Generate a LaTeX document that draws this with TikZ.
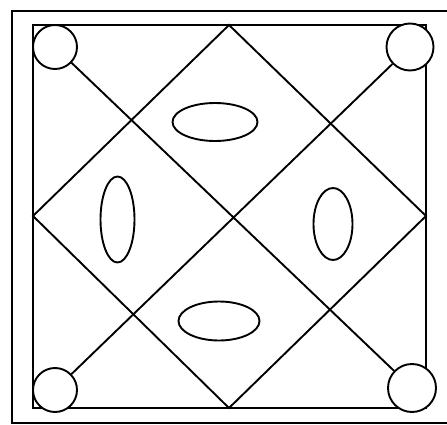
\documentclass[tikz,border=0pt]{standalone}
\usetikzlibrary{shapes.geometric}
\begin{document}
\begin{tikzpicture}[x=1pt,y=-1pt,
  ln/.style={line width=1.9pt, black},
  knob/.style={circle, draw, line width=1.9pt, fill=white, inner sep=0pt},
  oval/.style={ellipse, draw, line width=1.9pt, inner sep=0pt}]
\useasboundingbox (0,0) rectangle (447,425);
% outer frame
\draw[ln] (447,11) -- (12,11) -- (12,423) -- (447,423);
% inner square
\draw[ln] (33,25) rectangle (426,408);
% diamond
\coordinate (dt) at (229,25);
\coordinate (dr) at (426,216);
\coordinate (db) at (229,408);
\coordinate (dl) at (33,216);
\draw[ln] (dt) -- (dr) -- (db) -- (dl) -- cycle;
% corner circles
\node[knob, minimum size=44pt] (tl) at (55,47) {};
\node[knob, minimum size=47pt] (tr) at (410,47) {};
\node[knob, minimum size=44pt] (bl) at (55,390) {};
\node[knob, minimum size=48pt] (br) at (412,388) {};
% diagonals
\draw[ln] (tl) -- (br);
\draw[ln] (tr) -- (bl);
% ovals
\node[oval, minimum width=85pt, minimum height=38pt] (otop) at (215,122) {};
\node[oval, minimum width=34pt, minimum height=86pt] (oleft) at (117.5,219.5) {};
\node[oval, minimum width=39pt, minimum height=72pt] (oright) at (333,224) {};
\node[oval, minimum width=81pt, minimum height=39pt] (obot) at (219,321) {};
\end{tikzpicture}
\end{document}
